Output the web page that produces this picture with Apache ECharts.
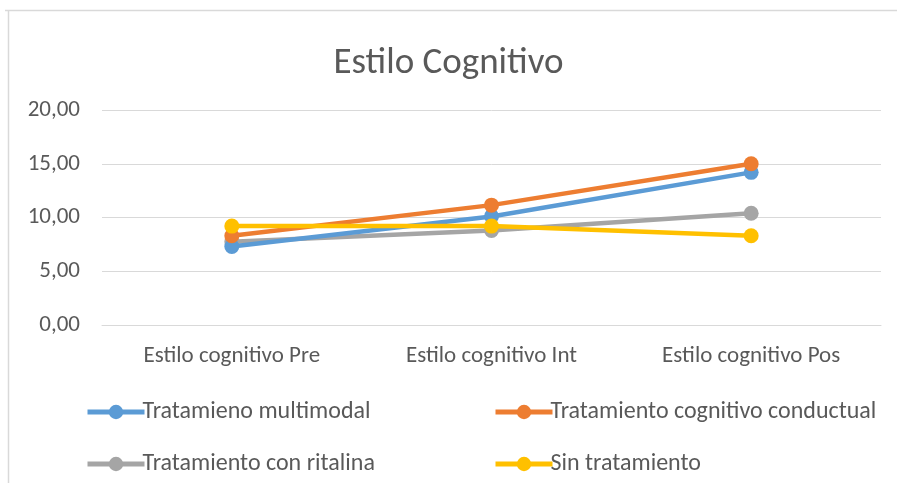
<!DOCTYPE html>
<html>
<head>
<meta charset="utf-8">
<script src="https://cdn.jsdelivr.net/npm/echarts@6/dist/echarts.min.js"></script>
<style>html,body{margin:0;padding:0;background:#fff}#c{width:897px;height:483px}</style>
</head>
<body>
<div id="c"></div>
<script>
const categories = ['Estilo cognitivo Pre', 'Estilo cognitivo Int', 'Estilo cognitivo Pos'];
const multimodal = [7.3, 10.1, 14.2];
const cognitivoConductual = [8.3, 11.15, 15.0];
const conRitalina = [7.75, 8.8, 10.4];
const sinTratamiento = [9.2, 9.2, 8.3];
const seriesNames = ['Tratamieno multimodal', 'Tratamiento cognitivo conductual', 'Tratamiento con ritalina', 'Sin tratamiento'];
const colors = ['#5B9BD5', '#ED7D31', '#A5A5A5', '#FFC000'];
const yTicks = { min: 0, max: 20, interval: 5 };

const font = 'Calibri, Carlito, "Open Sans", "Liberation Sans", sans-serif';
const chart = echarts.init(document.getElementById('c'), null, { renderer: 'canvas' });
const dataSets = [multimodal, cognitivoConductual, conRitalina, sinTratamiento];
const legendPos = [
  { left: 85, top: 400 },
  { left: 493, top: 400 },
  { left: 85, top: 452 },
  { left: 493, top: 452 }
];
const z = [3, 4, 2, 5];
chart.setOption({
  animation: false,
  backgroundColor: '#fff',
  title: {
    text: 'Estilo Cognitivo', left: 'center', top: 40,
    textStyle: { fontFamily: font, fontSize: 37, fontWeight: 'normal', color: '#595959' }
  },
  legend: legendPos.map((p, i) => ({
    data: [seriesNames[i]], left: p.left, top: p.top, padding: 0,
    itemWidth: 57, itemHeight: 18, itemGap: 0,
    lineStyle: { width: 5 },
    textStyle: { fontFamily: font, fontSize: 24, color: '#595959', padding: [0, 0, 0, -7] }
  })),
  grid: { left: 102, right: 16, top: 110, bottom: 158, containLabel: false },
  xAxis: {
    type: 'category', data: categories, boundaryGap: true,
    axisLine: { lineStyle: { color: '#d9d9d9', width: 1 } },
    axisTick: { show: false },
    axisLabel: { fontFamily: font, fontSize: 23, color: '#595959', margin: 20 }
  },
  yAxis: {
    type: 'value', min: yTicks.min, max: yTicks.max, interval: yTicks.interval,
    axisLine: { show: false }, axisTick: { show: false },
    splitLine: { lineStyle: { color: '#d9d9d9', width: 1 } },
    axisLabel: {
      fontFamily: font, fontSize: 23, color: '#595959', margin: 22,
      formatter: v => v.toFixed(2).replace('.', ',')
    }
  },
  series: dataSets.map((d, i) => ({
    name: seriesNames[i], type: 'line', data: d, z: z[i],
    color: colors[i],
    symbol: 'circle', symbolSize: 15,
    lineStyle: { width: 4.5, color: colors[i] },
    itemStyle: { color: colors[i] }
  })),
  graphic: [
    { type: 'line', shape: { x1: 5, y1: 10.5, x2: 897, y2: 10.5 }, style: { stroke: '#d9d9d9', lineWidth: 1.5 } },
    { type: 'line', shape: { x1: 8.5, y1: 10, x2: 8.5, y2: 483 }, style: { stroke: '#d9d9d9', lineWidth: 1.5 } }
  ]
});
</script>
</body>
</html>
